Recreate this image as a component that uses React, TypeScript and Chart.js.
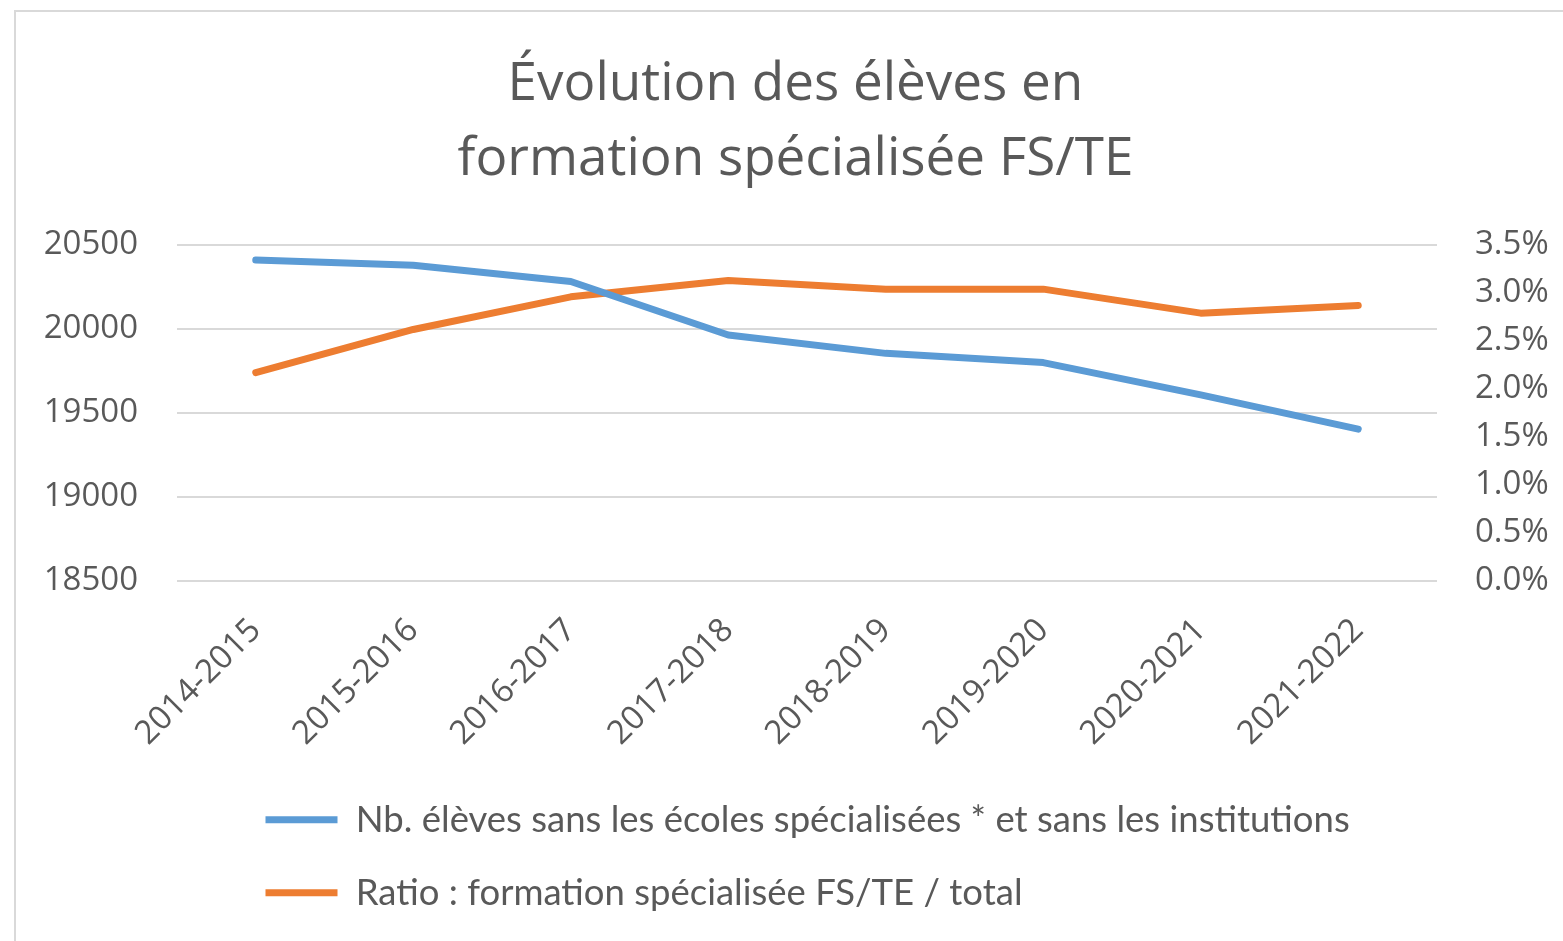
import React, { useEffect, useRef } from "react";
import { Chart, registerables } from "chart.js";

Chart.register(...registerables);

const categories = [
  "2014-2015",
  "2015-2016",
  "2016-2017",
  "2017-2018",
  "2018-2019",
  "2019-2020",
  "2020-2021",
  "2021-2022",
];

const eleves = [20410, 20380, 20283, 19964, 19855, 19800, 19608, 19404];
const ratioPct = [2.17, 2.62, 2.96, 3.13, 3.04, 3.04, 2.79, 2.87];

const titleLines = ["Évolution des élèves en", "formation spécialisée FS/TE"];
const seriesLabels = [
  "Nb. élèves sans les écoles spécialisées * et sans les institutions",
  "Ratio : formation spécialisée FS/TE / total",
];

const W = 1563;
const H = 941;
const TEXT = "#595959";
const GRID = "#D9D9D9";

export default function App() {
  const ref = useRef<HTMLCanvasElement | null>(null);

  useEffect(() => {
    if (!ref.current) return;
    const boxShift = {
      id: "boxShift",
      afterLayout(chart: any) {
        if (chart.legend) {
          chart.legend.left = 229;
          chart.legend.top = 765;
        }
        if (chart.titleBlock) {
          chart.titleBlock.left += 14;
          chart.titleBlock.right += 14;
        }
      },
    };
    const chart = new Chart(ref.current, {
      type: "line",
      data: {
        labels: categories,
        datasets: [
          {
            label: seriesLabels[0],
            data: eleves,
            borderColor: "#5B9BD5",
            backgroundColor: "#5B9BD5",
            borderWidth: 7,
            pointRadius: 0,
            borderCapStyle: "round",
            borderJoinStyle: "round",
            tension: 0,
            yAxisID: "y",
          },
          {
            label: seriesLabels[1],
            data: ratioPct,
            borderColor: "#ED7D31",
            backgroundColor: "#ED7D31",
            borderWidth: 7,
            pointRadius: 0,
            borderCapStyle: "round",
            borderJoinStyle: "round",
            tension: 0,
            yAxisID: "y1",
          },
        ],
      },
      options: {
        responsive: false,
        animation: false,
        layout: { padding: 0 },
        plugins: {
          title: {
            display: true,
            text: titleLines,
            color: TEXT,
            font: { family: "'Open Sans', sans-serif", size: 53, weight: "normal", lineHeight: 75 / 53 },
            padding: { top: 47, bottom: 48 },
          },
          legend: {
            display: true,
            position: "bottom",
            align: "start",
            maxHeight: 160,
            labels: {
              color: TEXT,
              font: { family: "Lato, sans-serif", size: 36.5 },
              usePointStyle: true,
              pointStyle: "line",
              pointStyleWidth: 72,
              padding: 36.5,
            },
          },
          tooltip: { enabled: false },
        },
        scales: {
          x: {
            type: "category",
            offset: true,
            grid: { display: false, drawTicks: false },
            border: { display: false },
            ticks: {
              color: TEXT,
              font: { family: "'Open Sans', sans-serif", size: 33 },
              minRotation: 45,
              maxRotation: 45,
              autoSkip: false,
              padding: 30,
            },
            afterFit(scale: any) {
              scale.height = 204;
            },
          },
          y: {
            type: "linear",
            position: "left",
            min: 18500,
            max: 20500,
            grid: { color: GRID, lineWidth: 2, drawTicks: false },
            border: { display: false },
            ticks: {
              stepSize: 500,
              color: TEXT,
              font: { family: "'Open Sans', sans-serif", size: 33 },
              padding: 39,
              callback: (v: any) => String(v),
            },
            afterFit(scale: any) {
              scale.width = 177;
            },
          },
          y1: {
            type: "linear",
            position: "right",
            min: 0,
            max: 3.5,
            grid: { display: false, drawTicks: false },
            border: { display: false },
            ticks: {
              stepSize: 0.5,
              color: TEXT,
              font: { family: "'Open Sans', sans-serif", size: 33 },
              padding: 38,
              callback: (v: any) => Number(v).toFixed(1) + "%",
            },
            afterFit(scale: any) {
              scale.width = 126;
            },
          },
        },
      },
      plugins: [boxShift],
    });
    return () => chart.destroy();
  }, []);

  return (
    <div style={{ position: "absolute", left: 0, top: 0, width: W, height: H, background: "#fff" }}>
      <div
        style={{
          position: "absolute",
          left: 14,
          top: 10,
          width: W - 14,
          height: H - 10,
          borderLeft: "2px solid #D9D9D9",
          borderTop: "2px solid #D9D9D9",
          boxSizing: "border-box",
        }}
      />
      <canvas ref={ref} width={W} height={H} style={{ position: "absolute", left: 0, top: 0 }} />
    </div>
  );
}
